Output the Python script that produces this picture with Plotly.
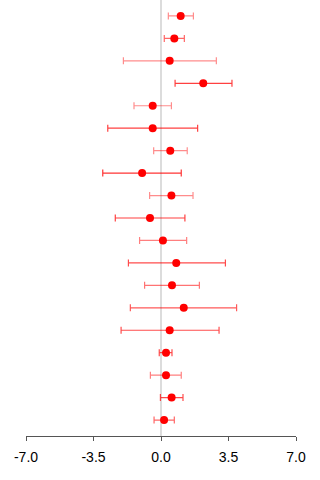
import plotly.graph_objects as go

# Effect estimates with lower / upper interval bounds, listed top to bottom
estimate = [1.02, 0.69, 0.45, 2.19, -0.43, -0.43, 0.48, -0.98, 0.54, -0.57,
            0.10, 0.79, 0.57, 1.18, 0.45, 0.26, 0.26, 0.55, 0.16]
lower = [0.38, 0.17, -1.95, 0.73, -1.40, -2.76, -0.38, -3.02, -0.59, -2.37,
         -1.11, -1.69, -0.85, -1.59, -2.07, -0.09, -0.55, -0.03, -0.36]
upper = [1.68, 1.21, 2.87, 3.68, 0.54, 1.90, 1.36, 1.05, 1.66, 1.24,
         1.33, 3.34, 1.99, 3.92, 3.01, 0.57, 1.05, 1.14, 0.69]
# Interval line strength per row
weight = [0.45, 0.6, 0.45, 0.75, 0.45, 0.75, 0.45, 0.8, 0.45, 0.75,
          0.5, 0.7, 0.55, 0.65, 0.7, 0.7, 0.5, 0.7, 0.6]

tick_vals = [-7.0, -3.5, 0.0, 3.5, 7.0]
tick_text = ["-7.0", "-3.5", "0.0", "3.5", "7.0"]

rows = list(range(1, len(estimate) + 1))

fig = go.Figure()
for r, est, lo, hi, w in zip(rows, estimate, lower, upper, weight):
    fig.add_trace(go.Scatter(
        x=[est], y=[r], mode="markers",
        marker=dict(color="rgb(255,0,0)", size=8),
        error_x=dict(type="data", symmetric=False,
                     array=[hi - est], arrayminus=[est - lo],
                     color=f"rgba(255,0,0,{w})", thickness=1.2, width=3.5),
        showlegend=False, hoverinfo="skip",
    ))

fig.update_layout(
    width=320, height=480,
    margin=dict(l=26, r=24, t=0, b=44),
    plot_bgcolor="white", paper_bgcolor="white",
    font=dict(family="Liberation Sans, Arial, sans-serif", size=14, color="black"),
    xaxis=dict(range=[-7, 7], tickvals=tick_vals, ticktext=tick_text,
               showgrid=False, zeroline=True, zerolinecolor="#dcdcdc",
               zerolinewidth=2, showline=True, linecolor="#555555",
               linewidth=1, ticks="outside", ticklen=4, tickcolor="#555555",
               ticklabelstandoff=4, fixedrange=True),
    yaxis=dict(range=[len(estimate) + 0.71, 0.29], visible=False,
               showgrid=False, zeroline=False, fixedrange=True),
)

fig.write_html("out.html")
